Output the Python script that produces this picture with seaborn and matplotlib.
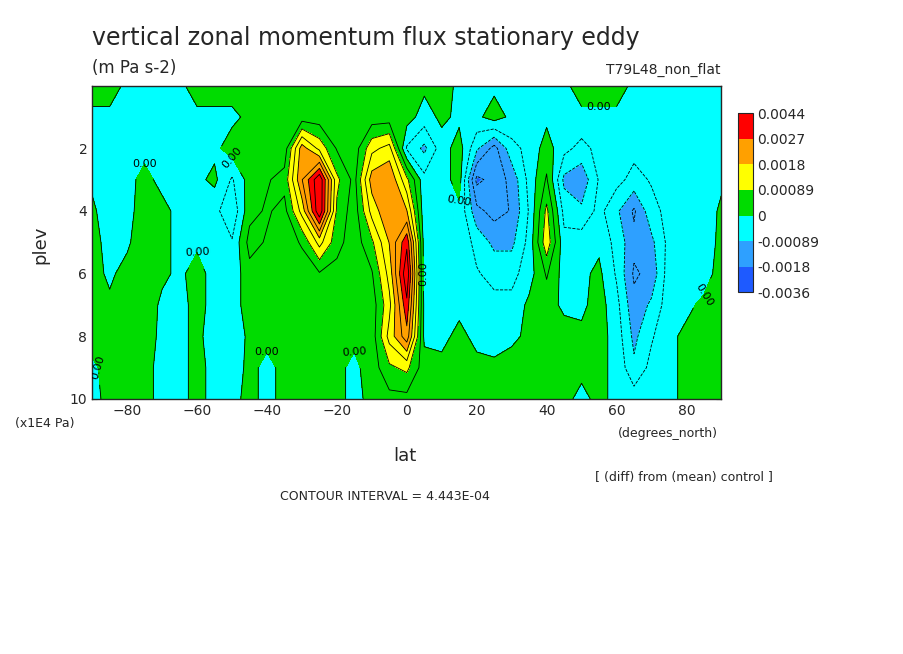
import numpy as np
import matplotlib
matplotlib.use("Agg")
import matplotlib.pyplot as plt
import seaborn as sns
from matplotlib.colors import ListedColormap, BoundaryNorm

sns.set_style("ticks")
plt.rcParams['font.family'] = ['DejaVu Sans']

lats = list(range(-90, 95, 5))
plevs = [0, 1, 2, 3, 4, 5, 6, 7, 8, 9, 10]
# values in units of 1e-4 m Pa s-2, rows = plev, cols = lat
p0 = [2,2,-1,-1,-1,-1,2,2,2,2,2,2,2,2,2,2,2,2,2,1,2,-1,-1,-1,-1,-1,-1,-1,2,2,2,-1,-1,-1,-1,-1,-1]
p1 = [-1,-1,-1,-1,-1,-1,-1,-1,-1,1,2,2,2,2,2,2,2,2,2,-2,1,-1,-1,2,-1,-1,-1,-1,-1,-1,-1,-1,-1,-1,-1,-1,-1]
p2 = [-1,-1,-1,-1,-1,-1,-1,-1,2,2,2,2,20,12,4,2,12,15,-5,-10,-2,2,-8,-15,-6,-3,2,-3,-6,-3,-2,-3,-2,-2,-1,-3,-1]
p3 = [-1,-2,-1,1,-1,-1,-1,1,-5,2,4,6,22,35,10,3,20,22,10,-3,-2,2,-19,-16,-12,-3,5,-10,-12,-4,-3,-6,-4,-3,-2,-4,-1]
p4 = [1,-3,-2,3,1,-1,-2,-3,-8,3,5,3,15,35,8,2,15,22,18,-3,-2,-1,-12,-15,-13,-4,10,-6,-8,-3,-8,-14,-6,-3,-2,-3,1]
p5 = [2,-2,-1,4,1,-1,-1,-2,-4,6,4,2,5,15,6,2,8,18,30,-2,-2,-1,-6,-10,-10,-3,12,-3,-2,-1,-6,-12,-10,-3,-2,-2,1]
p6 = [2,-1,2,4,1,-1,2,-2,-3,3,2,1,2,4,3,2,4,15,35,-2,-1,-1,-4,-6,-6,-2,5,-2,-1,1,-5,-14,-12,-2,-1,-2,2]
p7 = [2,1,2,3,-1,-1,1,-1,-2,2,1,1,1,2,3,1,2,12,30,-1,-1,-1,-3,-3,-3,1,2,-1,-1,2,-3,-12,-8,-2,-1,1,3]
p8 = [2,3,1,2,-1,-1,1,-2,-3,1,1,1,2,1,2,1,2,15,25,-1,-1,1,-1,-2,-1,1,1,2,1,2,-2,-10,-5,-1,1,2,4]
p9 = [-1,2,1,1,-1,-1,1,-1,-2,1,-1,1,1,2,1,-1,2,8,10,2,1,1,1,1,2,1,1,2,1,1,-1,-8,-3,-1,1,3,4]
p10 = [-1,1,1,1,-1,-1,1,-1,-1,1,-1,1,1,1,1,-1,1,3,3,2,1,1,1,1,1,1,1,1,-1,1,-1,-2,-1,-1,1,1,2]
rows = [p0, p1, p2, p3, p4, p5, p6, p7, p8, p9, p10]
Z = np.array(rows, dtype=float) * 1e-4

levels = [-0.0036, -0.0018, -0.00089, 0, 0.00089, 0.0018, 0.0027, 0.0044]
colors = ["#1e5aff", "#2ea0ff", "#00ffff", "#00dc00", "#ffff00", "#ffa000", "#ff0000"]
cmap = ListedColormap(colors)
norm = BoundaryNorm(levels, cmap.N)

fig = plt.figure(figsize=(9.04, 6.54), dpi=100)
ax = fig.add_axes([0.102, 0.390, 0.696, 0.479])
Zc = np.clip(Z, -0.00359, 0.00439)
cf = ax.contourf(lats, plevs, Zc, levels=levels, cmap=cmap, norm=norm)
ci = 4.443e-4
neg = [-ci * k for k in range(8, 0, -1)]
pos = [ci * k for k in range(0, 10)]
ax.contour(lats, plevs, Z, levels=neg, colors="black", linewidths=0.6, linestyles="dashed")
cs = ax.contour(lats, plevs, Z, levels=pos, colors="black", linewidths=0.6, linestyles="solid")
ax.clabel(cs, levels=[0.0], fmt="%.2f", fontsize=8, inline=True)
ax.set_xlim(-90, 90)
ax.set_ylim(10, 0)
ax.set_xticks([-80, -60, -40, -20, 0, 20, 40, 60, 80])
ax.set_yticks([2, 4, 6, 8, 10])
ax.minorticks_on()
ax.tick_params(direction="in", which="both", top=True, right=True, labelsize=10)
for s in ax.spines.values():
    s.set_linewidth(1)

cax = fig.add_axes([0.816, 0.553, 0.0166, 0.274])
cb = fig.colorbar(cf, cax=cax, ticks=levels)
cb.ax.set_yticklabels(["-0.0036", "-0.0018", "-0.00089", "0", "0.00089", "0.0018", "0.0027", "0.0044"])
cb.ax.tick_params(length=0, labelsize=10)

fig.text(92/904, 1-38/654, "vertical zonal momentum flux stationary eddy", fontsize=17, va="center")
fig.text(92/904, 1-68/654, "(m Pa s-2)", fontsize=12, va="center")
fig.text(721/904, 1-70/654, "T79L48_non_flat", fontsize=10, va="center", ha="right")
fig.text(15/904, 1-423/654, "(x1E4 Pa)", fontsize=9, va="center")
fig.text(618/904, 1-433/654, "(degrees_north)", fontsize=9, va="center")
fig.text(405/904, 1-456/654, "lat", fontsize=13, va="center", ha="center")
fig.text(40/904, 1-245/654, "plev", fontsize=13, va="center", ha="center", rotation=90)
fig.text(595/904, 1-478/654, "[ (diff) from (mean) control ]", fontsize=9, va="center")
fig.text(280/904, 1-497/654, "CONTOUR INTERVAL = 4.443E-04", fontsize=9, va="center")

fig.savefig("out.png", dpi=100)
